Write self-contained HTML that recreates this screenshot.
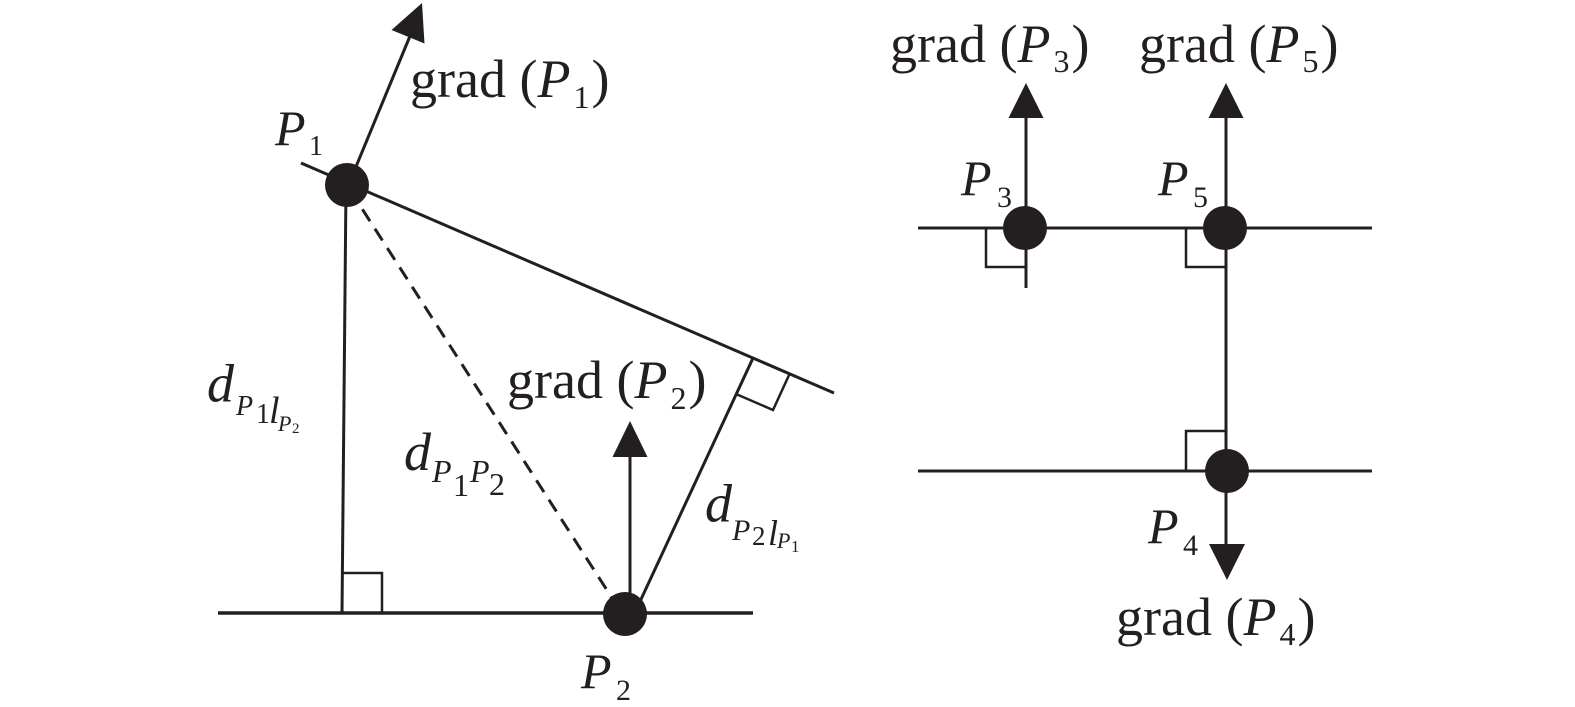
<!DOCTYPE html>
<html><head><meta charset="utf-8"><style>
html,body{margin:0;padding:0;background:#fff;}
svg{display:block;}
text{font-family:"Liberation Serif","Times New Roman",serif;fill:#231f20;}
.i{font-style:italic;}
</style></head><body>
<svg width="1575" height="707" viewBox="0 0 1575 707" xmlns="http://www.w3.org/2000/svg">
<g stroke="#231f20" fill="none" stroke-width="3">
  <!-- left diagram -->
  <line x1="301" y1="163" x2="834" y2="393"/>
  <line x1="348" y1="186" x2="410" y2="36"/>
  <line x1="346" y1="186" x2="342" y2="613"/>
  <polyline points="342,573 382,573 382,613" stroke-width="2.5"/>
  <line x1="218" y1="613" x2="753" y2="613" stroke-width="3.5"/>
  <line x1="350" y1="190" x2="612" y2="598" stroke-dasharray="14 9"/>
  <line x1="630" y1="614" x2="630" y2="455"/>
  <line x1="637" y1="608" x2="753.5" y2="357"/>
  <polyline points="736,394 773,410 790,373" stroke-width="2.5"/>
  <!-- right diagram -->
  <line x1="918" y1="228" x2="1372" y2="228"/>
  <line x1="918" y1="471" x2="1372" y2="471"/>
  <line x1="1026" y1="116" x2="1026" y2="288"/>
  <line x1="1226" y1="116" x2="1226" y2="545"/>
  <polyline points="986,228 986,267 1026,267" stroke-width="2.5"/>
  <polyline points="1186,228 1186,267 1226,267" stroke-width="2.5"/>
  <polyline points="1186,471 1186,431 1226,431" stroke-width="2.5"/>
</g>
<g fill="#231f20">
  <polygon points="422,3 391.5,30 424.5,43.5"/>
  <circle cx="347" cy="185" r="22"/>
  <circle cx="625" cy="614" r="22"/>
  <polygon points="630,421 612.5,457 647.5,457"/>
  <polygon points="1026,83 1008.5,118 1043.5,118"/>
  <polygon points="1226,83 1208.5,118 1243.5,118"/>
  <circle cx="1025" cy="228" r="22"/>
  <circle cx="1225" cy="228" r="22"/>
  <circle cx="1227" cy="471" r="22"/>
  <polygon points="1227,580 1209,544 1245,544"/>
</g>

<!-- labels left -->
<text x="410" y="97" font-size="54">grad (<tspan class="i">P</tspan><tspan font-size="32" dx="3" dy="11">1</tspan><tspan dx="2" dy="-11">)</tspan></text>
<text x="275" y="145" font-size="50" class="i">P</text>
<text x="309" y="155" font-size="28">1</text>

<text x="507" y="398" font-size="54">grad (<tspan class="i">P</tspan><tspan font-size="32" dx="3" dy="11">2</tspan><tspan dx="2" dy="-11">)</tspan></text>

<text x="581" y="688" font-size="50" class="i">P</text>
<text x="616" y="700" font-size="30">2</text>

<text x="207" y="401.5" font-size="54" class="i">d</text>
<text x="236" y="415" font-size="28" class="i">P</text>
<text x="256" y="423" font-size="28">1</text>
<text x="269" y="423" font-size="38" class="i">l</text>
<text x="278" y="431" font-size="22" class="i">P</text>
<text x="292" y="433" font-size="15">2</text>

<text x="404" y="470" font-size="54" class="i">d</text>
<text x="432" y="482" font-size="32" class="i">P</text>
<text x="453" y="496" font-size="32">1</text>
<text x="470" y="482" font-size="32" class="i">P</text>
<text x="489" y="495" font-size="32">2</text>

<text x="705" y="521.5" font-size="54" class="i">d</text>
<text x="732" y="540" font-size="30" class="i">P</text>
<text x="752" y="545" font-size="27">2</text>
<text x="768" y="545" font-size="36" class="i">l</text>
<text x="777" y="548" font-size="22" class="i">P</text>
<text x="791" y="552" font-size="17">1</text>

<!-- labels right -->
<text x="890" y="62" font-size="54">grad (<tspan class="i">P</tspan><tspan font-size="32" dx="3" dy="10">3</tspan><tspan dx="2" dy="-10">)</tspan></text>
<text x="1139" y="62" font-size="54">grad (<tspan class="i">P</tspan><tspan font-size="32" dx="3" dy="10">5</tspan><tspan dx="2" dy="-10">)</tspan></text>
<text x="1116" y="635" font-size="54">grad (<tspan class="i">P</tspan><tspan font-size="32" dx="3" dy="10">4</tspan><tspan dx="2" dy="-10">)</tspan></text>

<text x="961" y="195" font-size="50" class="i">P</text>
<text x="997" y="207" font-size="30">3</text>
<text x="1158" y="195" font-size="50" class="i">P</text>
<text x="1193" y="207" font-size="30">5</text>
<text x="1148" y="543" font-size="50" class="i">P</text>
<text x="1183" y="555" font-size="30">4</text>
</svg>
</body></html>
